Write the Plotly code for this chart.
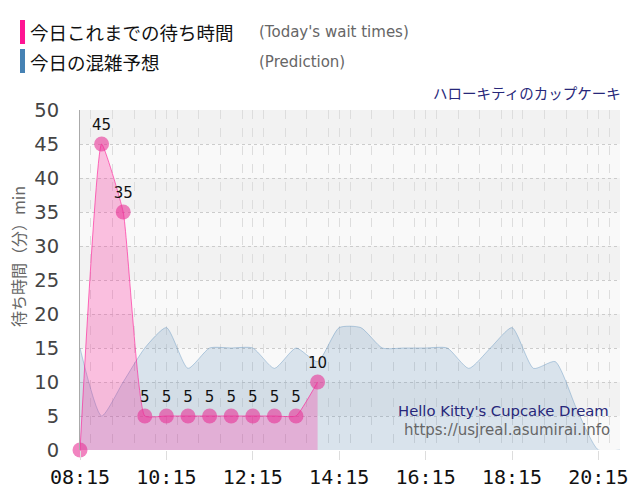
import plotly.graph_objects as go

DAY = "2024-01-01 "

# ---- data ----
actual_times = ["08:15", "08:45", "09:15", "09:45", "10:15", "10:45", "11:15",
                "11:45", "12:15", "12:45", "13:15", "13:45"]
actual_wait = [0, 45, 35, 5, 5, 5, 5, 5, 5, 5, 5, 10]

pred_times = ["08:15", "08:45", "09:15", "09:45", "10:15", "10:45", "11:15", "11:45",
              "12:15", "12:45", "13:15", "13:45", "14:15", "14:45", "15:15", "15:45",
              "16:15", "16:45", "17:15", "17:45", "18:15", "18:45", "19:15", "19:45",
              "20:15", "20:45"]
pred_wait = [15, 5, 10, 15, 18, 12, 15, 15, 15, 12, 15, 13, 18, 18, 15, 15,
             15, 15, 12, 15, 18, 12, 13, 6, 0, 0]

tick_labels = ["08:15", "10:15", "12:15", "14:15", "16:15", "18:15", "20:15"]

legend_jp = ["今日これまでの待ち時間", "今日の混雑予想"]
legend_en = ["(Today's wait times)", "(Prediction)"]
title_jp = "ハローキティのカップケーキ"
title_en = "Hello Kitty's Cupcake Dream"
url_text = "https://usjreal.asumirai.info"
y_title = "待ち時間（分）min"

# ---- figure ----
ax = [DAY + t for t in actual_times]
px_ = [DAY + t for t in pred_times]

fig = go.Figure()
fig.add_trace(go.Scatter(
    x=px_, y=pred_wait, mode="lines",
    line=dict(color="rgba(70,130,180,0.35)", width=1, shape="spline", smoothing=0.6),
    fill="tozeroy", fillcolor="rgba(70,130,180,0.18)",
    hoverinfo="skip", showlegend=False))
fig.add_trace(go.Scatter(
    x=ax, y=actual_wait, mode="lines+markers+text",
    text=[("" if i == 0 else str(v)) for i, v in enumerate(actual_wait)],
    textposition="top center",
    textfont=dict(family="DejaVu Sans", size=15, color="#111"),
    line=dict(color="rgba(255,20,147,0.6)", width=1, shape="spline", smoothing=0.4),
    marker=dict(size=15, color="rgba(232,50,150,0.6)", line=dict(width=0)),
    fill="tozeroy", fillcolor="rgba(255,20,147,0.25)",
    cliponaxis=False, hoverinfo="skip", showlegend=False))

shapes = []
for lo in range(5, 50, 10):
    shapes.append(dict(type="rect", xref="paper", x0=0, x1=1, yref="y", y0=lo, y1=lo + 5,
                       fillcolor="#f2f2f2", line=dict(width=0), layer="below"))
# legend colour bars
shapes.append(dict(type="rect", xref="paper", yref="paper",
                   x0=(20 - 80) / 540, x1=(25 - 80) / 540,
                   y0=(450 - 44) / 340, y1=(450 - 20) / 340,
                   fillcolor="#ff1493", line=dict(width=0)))
shapes.append(dict(type="rect", xref="paper", yref="paper",
                   x0=(20 - 80) / 540, x1=(25 - 80) / 540,
                   y0=(450 - 73) / 340, y1=(450 - 49) / 340,
                   fillcolor="#4682b4", line=dict(width=0)))

ann = []
for i, (jp, en) in enumerate(zip(legend_jp, legend_en)):
    py = 32 + 30 * i
    ann.append(dict(xref="paper", yref="paper", x=(28 - 80) / 540, y=(450 - py) / 340,
                    xanchor="left", yanchor="middle", showarrow=False, text=jp,
                    font=dict(family="Noto Sans CJK JP", size=18.5, color="#111")))
    ann.append(dict(xref="paper", yref="paper", x=(257 - 80) / 540, y=(450 - py) / 340,
                    xanchor="left", yanchor="middle", showarrow=False, text=en,
                    font=dict(family="DejaVu Sans", size=15, color="#666")))
ann.append(dict(xref="paper", yref="paper", x=(623 - 80) / 540, y=(450 - 93) / 340,
                xanchor="right", yanchor="middle", showarrow=False, text=title_jp,
                font=dict(family="Noto Sans CJK JP", size=14.5, color="#27277a")))
ann.append(dict(xref="paper", yref="paper", x=(611 - 80) / 540, y=(450 - 410) / 340,
                xanchor="right", yanchor="middle", showarrow=False, text=title_en,
                font=dict(family="DejaVu Sans", size=14.8, color="#27277a")))
ann.append(dict(xref="paper", yref="paper", x=(612 - 80) / 540, y=(450 - 430) / 340,
                xanchor="right", yanchor="middle", showarrow=False, text=url_text,
                font=dict(family="DejaVu Sans", size=15, color="#666")))
ann.append(dict(xref="paper", yref="paper", x=(18 - 80) / 540, y=(450 - 257) / 340,
                xanchor="center", yanchor="middle", showarrow=False, text=y_title,
                textangle=-90,
                font=dict(family="Noto Sans CJK JP", size=16, color="#666")))

fig.update_layout(
    width=640, height=500,
    margin=dict(l=80, r=20, t=110, b=50),
    paper_bgcolor="white", plot_bgcolor="#f9f9f9",
    shapes=shapes, annotations=ann,
    xaxis=dict(
        type="date", range=[DAY + "08:15", DAY + "20:45"],
        tickvals=[DAY + t for t in tick_labels], ticktext=tick_labels,
        tickfont=dict(family="DejaVu Sans Mono", size=20, color="#111"),
        ticks="outside", ticklen=9, tickcolor="#dddddd",
        showgrid=True, gridcolor="#dddddd", griddash="dash", gridwidth=1,
        minor=dict(dtick=30 * 60 * 1000, showgrid=True, gridcolor="#dddddd",
                   griddash="dash", ticks=""),
        showline=False, zeroline=False, fixedrange=True),
    yaxis=dict(
        range=[0, 50], dtick=5, tick0=0,
        tickfont=dict(family="DejaVu Sans", size=19.5, color="#444"),
        ticks="", ticklabelstandoff=16,
        showgrid=True, gridcolor="#cccccc", griddash="dot", gridwidth=1,
        showline=True, linecolor="#aaaaaa", linewidth=1,
        zeroline=False, fixedrange=True),
)

fig.write_html("out.html")
